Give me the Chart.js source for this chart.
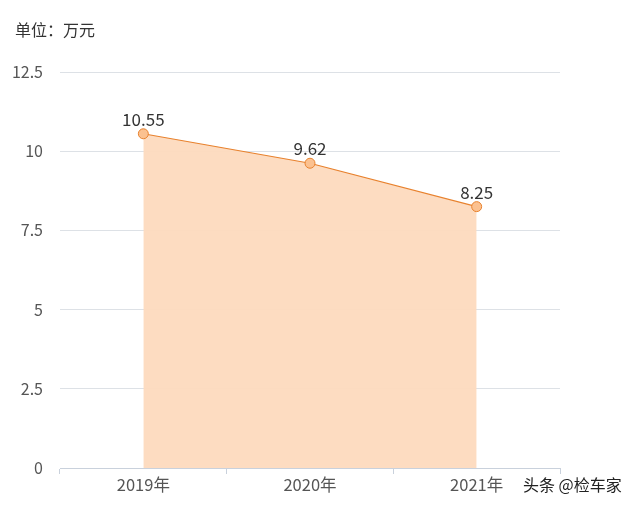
<!DOCTYPE html>
<html><head><meta charset="utf-8">
<script src="https://cdn.jsdelivr.net/npm/chart.js@4"></script>
<style>html,body{margin:0;padding:0;background:#fff}#wrap{width:638px;height:505px;position:relative}</style>
</head><body><div id="wrap"><canvas id="c"></canvas></div>
<script>
const categories = ["2019年", "2020年", "2021年"];
const values = [10.55, 9.62, 8.25];
const yTicks = [0, 2.5, 5, 7.5, 10, 12.5];
const unitLabel = "单位：万元";
const watermark = "头条 @检车家";

const FONT = "'Noto Sans CJK SC', 'Noto Sans', sans-serif";

const extras = {
  id: 'extras',
  afterDatasetsDraw(chart) {
    const ctx = chart.ctx;
    const meta = chart.getDatasetMeta(0);
    ctx.save();
    ctx.font = "17px " + FONT;
    ctx.fillStyle = "#333";
    ctx.textAlign = "center";
    ctx.textBaseline = "alphabetic";
    meta.data.forEach((pt, i) => {
      ctx.fillText(String(values[i]), pt.x, pt.y - 8);
    });
    ctx.textAlign = "left";
    ctx.textBaseline = "middle";
    ctx.font = "16px " + FONT;
    ctx.fillStyle = "#333";
    ctx.fillText(unitLabel, 15, 30);
    ctx.font = "16px " + FONT;
    ctx.fillStyle = "#222";
    ctx.fillText(watermark, 523, 485);
    ctx.restore();
  }
};

new Chart(document.getElementById('c'), {
  type: 'line',
  data: {
    labels: categories,
    datasets: [{
      data: values,
      borderColor: '#E8822E',
      borderWidth: 1.2,
      backgroundColor: 'rgba(253,218,190,0.95)',
      fill: 'origin',
      tension: 0,
      pointRadius: 5,
      pointBackgroundColor: '#FBC190',
      pointBorderColor: '#E8822E',
      pointBorderWidth: 1
    }]
  },
  options: {
    responsive: true,
    maintainAspectRatio: false,
    animation: false,
    layout: { padding: { left: 0, right: 78, top: 72, bottom: 0 } },
    plugins: { legend: { display: false }, tooltip: { enabled: false } },
    scales: {
      x: {
        offset: true,
        afterFit(s) { s.height = 37; },
        grid: { display: true, drawOnChartArea: false, offset: true, tickLength: 6, color: '#C9D1DC' },
        border: { display: true, color: '#C9D1DC' },
        ticks: { color: '#555', font: { size: 16.5, family: FONT }, padding: 1 }
      },
      y: {
        min: 0, max: 12.5,
        afterFit(s) { s.width = 60; },
        afterBuildTicks(s) { s.ticks = yTicks.map(v => ({ value: v })); },
        grid: { color: '#DDE1E6', drawTicks: false },
        border: { display: false },
        ticks: { color: '#555', font: { size: 16, family: FONT }, padding: 17, callback: v => String(v) }
      }
    }
  },
  plugins: [extras]
});
</script></body></html>
